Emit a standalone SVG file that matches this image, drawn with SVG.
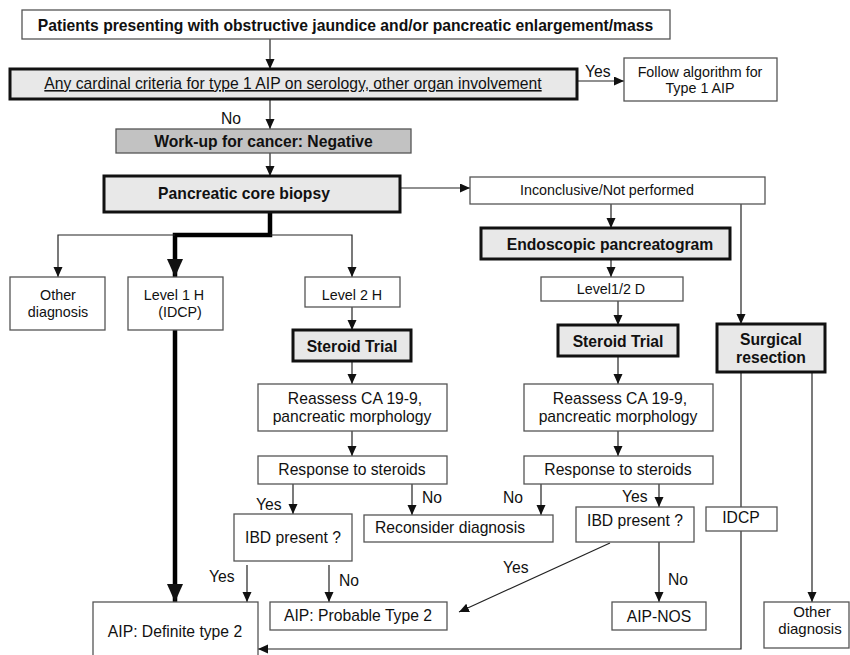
<svg xmlns="http://www.w3.org/2000/svg" width="850" height="655" viewBox="0 0 850 655">
<defs>
<marker id="a" markerUnits="userSpaceOnUse" markerWidth="10" markerHeight="10" refX="10" refY="4.5" orient="auto"><path d="M0,0 L10,4.5 L0,9 z" fill="#111"/></marker>
<marker id="A" markerUnits="userSpaceOnUse" markerWidth="19" markerHeight="17" refX="18" refY="8" orient="auto"><path d="M0,0 L18,8 L0,16 z" fill="#111"/></marker>
</defs>
<style>
text{font-family:"Liberation Sans",Arial,sans-serif;fill:#111;font-size:15.7px;text-anchor:middle}
.b{font-weight:bold}
.s{font-size:14.3px}
.l{text-anchor:start}
.t{fill:#fff;stroke:#555;stroke-width:1.3}
.k{fill:#e8e8e8;stroke:#111;stroke-width:3}
.g{fill:#c2c2c2;stroke:#555;stroke-width:1.3}
#conn path{fill:none;stroke:#222;stroke-width:1.2}
#conn path.w{stroke:#000;stroke-width:4.5}
</style>
<g id="conn">
<path d="M270,39 V69" marker-end="url(#a)"/>
<path d="M577,81 H624" marker-end="url(#a)"/>
<path d="M270,99 V129" marker-end="url(#a)"/>
<path d="M270,153 V176" marker-end="url(#a)"/>
<path d="M400,188 H470" marker-end="url(#a)"/>
<path d="M611,204 V228" marker-end="url(#a)"/>
<path d="M741,204 V324" marker-end="url(#a)"/>
<path class="w" d="M270,212 V235 H175 V277" marker-end="url(#A)"/>
<path d="M175,235 H58 V277" marker-end="url(#a)"/>
<path d="M270,235 H352 V277" marker-end="url(#a)"/>
<path d="M611,259 V277" marker-end="url(#a)"/>
<path d="M618,301 V325" marker-end="url(#a)"/>
<path d="M618,356 V384" marker-end="url(#a)"/>
<path d="M618,431 V456" marker-end="url(#a)"/>
<path d="M352,307 V330" marker-end="url(#a)"/>
<path d="M352,361 V384" marker-end="url(#a)"/>
<path d="M352,431 V456" marker-end="url(#a)"/>
<path d="M293,484 V514" marker-end="url(#a)"/>
<path d="M412,484 V515" marker-end="url(#a)"/>
<path d="M541,484 V515" marker-end="url(#a)"/>
<path d="M659,484 V507" marker-end="url(#a)"/>
<path d="M247,565 V602" marker-end="url(#a)"/>
<path d="M329,565 V602" marker-end="url(#a)"/>
<path d="M659,542 V602" marker-end="url(#a)"/>
<path d="M610,543 L459,612" marker-end="url(#a)"/>
<path class="w" d="M175,330 V602" marker-end="url(#A)"/>
<path d="M741,372 V507"/>
<path d="M741,531 V649 H258" marker-end="url(#a)"/>
<path d="M812,372 V602" marker-end="url(#a)"/>
<text x="585" y="77" class="l">Yes</text>
<text x="221" y="124" class="l">No</text>
<text x="256" y="510" class="l">Yes</text>
<text x="422" y="503" class="l">No</text>
<text x="503" y="503" class="l">No</text>
<text x="622" y="502" class="l">Yes</text>
<text x="209" y="582" class="l">Yes</text>
<text x="339" y="586" class="l">No</text>
<text x="668" y="585" class="l">No</text>
<text x="503" y="573" class="l">Yes</text>
</g>
<g id="n1"><rect class="t" x="22" y="10" width="648" height="29"/><text class="b" x="345.5" y="30.5">Patients presenting with obstructive jaundice and/or pancreatic enlargement/mass</text></g>
<g id="n2"><rect class="k" x="10" y="69" width="567" height="30"/><text x="293" y="89" text-decoration="underline">Any cardinal criteria for type 1 AIP on serology, other organ involvement</text></g>
<g id="n3"><rect class="t" x="624" y="58" width="153" height="43"/><text class="s" x="700" y="76.5">Follow algorithm for</text><text class="s" x="700" y="92.5">Type 1 AIP</text></g>
<g id="n4"><rect class="g" x="116" y="129" width="295" height="24"/><text class="b" x="263.5" y="146.5">Work-up for cancer: Negative</text></g>
<g id="n5"><rect class="k" x="104" y="176" width="296" height="36"/><text class="b" x="244" y="198.5">Pancreatic core biopsy</text></g>
<g id="n6"><rect class="t" x="470" y="177" width="295" height="27"/><text class="s" x="607" y="195">Inconclusive/Not performed</text></g>
<g id="n7"><rect class="t" x="10" y="277" width="95" height="53"/><text class="s" x="58" y="300">Other</text><text class="s" x="58" y="317">diagnosis</text></g>
<g id="n8"><rect class="t" x="128" y="277" width="95" height="53"/><text class="s" x="174" y="300">Level 1 H</text><text class="s" x="180" y="317">(IDCP)</text></g>
<g id="n9"><rect class="t" x="305" y="277" width="95" height="30"/><text class="s" x="352" y="299.5">Level 2 H</text></g>
<g id="n10"><rect class="k" x="293" y="330" width="118" height="31"/><text class="b" x="352" y="351.5">Steroid Trial</text></g>
<g id="n11"><rect class="t" x="258" y="384" width="189" height="47"/><text x="355" y="404">Reassess CA 19-9,</text><text x="352" y="422">pancreatic morphology</text></g>
<g id="n12"><rect class="t" x="258" y="456" width="189" height="28"/><text x="352" y="475">Response to steroids</text></g>
<g id="n13"><rect class="t" x="234" y="514" width="118" height="47"/><text x="293" y="543">IBD present ?</text></g>
<g id="n14"><rect class="t" x="364" y="515" width="189" height="27"/><text x="450" y="533">Reconsider diagnosis</text></g>
<g id="n15"><rect class="t" x="270" y="602" width="177" height="28"/><text x="358" y="621">AIP: Probable Type 2</text></g>
<g id="n16"><rect class="t" x="93" y="602" width="165" height="60"/><text x="175" y="637">AIP: Definite type 2</text></g>
<g id="n17"><rect class="k" x="481" y="228" width="249" height="31"/><text class="b" x="610" y="249.5">Endoscopic pancreatogram</text></g>
<g id="n18"><rect class="t" x="541" y="277" width="142" height="24"/><text class="s" x="611" y="293.5">Level1/2 D</text></g>
<g id="n19"><rect class="k" x="558" y="325" width="120" height="31"/><text class="b" x="618" y="346.5">Steroid Trial</text></g>
<g id="n20"><rect class="t" x="524" y="384" width="189" height="47"/><text x="620" y="404">Reassess CA 19-9,</text><text x="618" y="422">pancreatic morphology</text></g>
<g id="n21"><rect class="t" x="524" y="456" width="189" height="28"/><text x="618" y="475">Response to steroids</text></g>
<g id="n22"><rect class="t" x="576" y="507" width="118" height="35"/><text x="635" y="526">IBD present ?</text></g>
<g id="n23"><rect class="t" x="612" y="602" width="94" height="28"/><text x="659" y="621.5">AIP-NOS</text></g>
<g id="n24"><rect class="k" x="717" y="324" width="108" height="48"/><text class="b" x="771" y="345">Surgical</text><text class="b" x="771" y="363">resection</text></g>
<g id="n25"><rect class="t" x="706" y="507" width="71" height="24"/><text x="741" y="523">IDCP</text></g>
<g id="n26"><rect class="t" x="764" y="602" width="85" height="46"/><text x="812" y="617" style="font-size:15px">Other</text><text x="810" y="634" style="font-size:15px">diagnosis</text></g>
</svg>
